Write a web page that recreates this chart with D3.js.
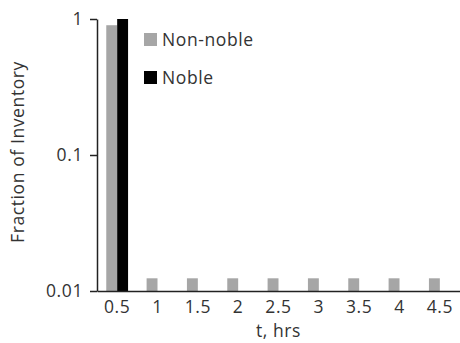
<!DOCTYPE html>
<html>
<head>
<meta charset="utf-8">
<script src="https://cdn.jsdelivr.net/npm/d3@7"></script>
<style>
  body { margin: 0; background: #fff; }
  text { font-family: "Open Sans", "Liberation Sans", sans-serif; fill: #333; letter-spacing: 0.6px; }
</style>
</head>
<body>
<div class="chart"></div>
<script>
// chart data
const times = ["0.5", "1", "1.5", "2", "2.5", "3", "3.5", "4", "4.5"];
const nonNoble = [0.90, 0.0124, 0.0124, 0.0124, 0.0124, 0.0124, 0.0124, 0.0124, 0.0124];
const noble = [1.0, null, null, null, null, null, null, null, null];
const yTicks = [0.01, 0.1, 1];
const seriesNames = ["Non-noble", "Noble"];
const seriesColors = ["#a6a6a6", "#000000"];

const width = 460, height = 343;
const margin = {top: 19, right: 0, bottom: 52, left: 97};
const fontSize = 17.5;

const svg = d3.select('.chart')
    .append('svg')
    .attr('width', width)
    .attr('height', height);

const xScale = d3.scaleBand()
    .domain(times)
    .range([margin.left, width - margin.right]);

const inner = d3.scaleBand()
    .domain([0, 1])
    .range([0, xScale.bandwidth()])
    .paddingInner(0)
    .paddingOuter(0.85);

const yScale = d3.scaleLog()
    .domain([0.01, 1])
    .range([height - margin.bottom, margin.top]);

// bars
const series = [nonNoble, noble];
series.forEach((vals, si) => {
  svg.append('g')
    .selectAll('rect')
    .data(times.map((t, i) => ({t, v: vals[i]})).filter(d => d.v != null))
    .join('rect')
    .attr('x', d => xScale(d.t) + inner(si))
    .attr('width', inner.bandwidth())
    .attr('y', d => yScale(d.v))
    .attr('height', d => yScale(0.01) - yScale(d.v))
    .attr('fill', seriesColors[si]);
});

// y axis
svg.append('g')
  .attr('transform', `translate(${margin.left},0)`)
  .call(d3.axisLeft(yScale).tickValues(yTicks).tickFormat(d3.format('~g')).tickSize(7).tickSizeOuter(0))
  .call(g => g.selectAll('.domain, .tick line').attr('stroke', '#222').attr('stroke-width', 1.5))
  .call(g => g.selectAll('.tick text').attr('font-size', fontSize).attr('x', -14).style('font-family', '"Open Sans", sans-serif').attr('fill', '#333'));

// x axis
svg.append('g')
  .attr('transform', `translate(0,${height - margin.bottom})`)
  .call(d3.axisBottom(xScale).tickSize(0).tickSizeOuter(0))
  .call(g => g.select('.domain').attr('stroke', '#222').attr('stroke-width', 1.5))
  .call(g => g.selectAll('.tick text').attr('font-size', fontSize).attr('dy', '1.1em').style('font-family', '"Open Sans", sans-serif').attr('fill', '#333'));

// axis names
svg.append('text')
  .attr('x', (margin.left + width) / 2)
  .attr('y', 337)
  .attr('text-anchor', 'middle')
  .attr('font-size', fontSize)
  .text('t, hrs');

svg.append('text')
  .attr('transform', 'translate(24,152) rotate(-90)')
  .attr('text-anchor', 'middle')
  .attr('font-size', fontSize)
  .text('Fraction of Inventory');

// legend
const legend = svg.append('g')
  .selectAll('g')
  .data(seriesNames)
  .join('g')
  .attr('transform', (d, i) => `translate(144,${33 + i * 38})`);

legend.append('rect')
  .attr('width', 13)
  .attr('height', 13)
  .attr('fill', (d, i) => seriesColors[i]);

legend.append('text')
  .attr('x', 18)
  .attr('y', 13)
  .attr('font-size', fontSize)
  .text(d => d);
</script>
</body>
</html>
